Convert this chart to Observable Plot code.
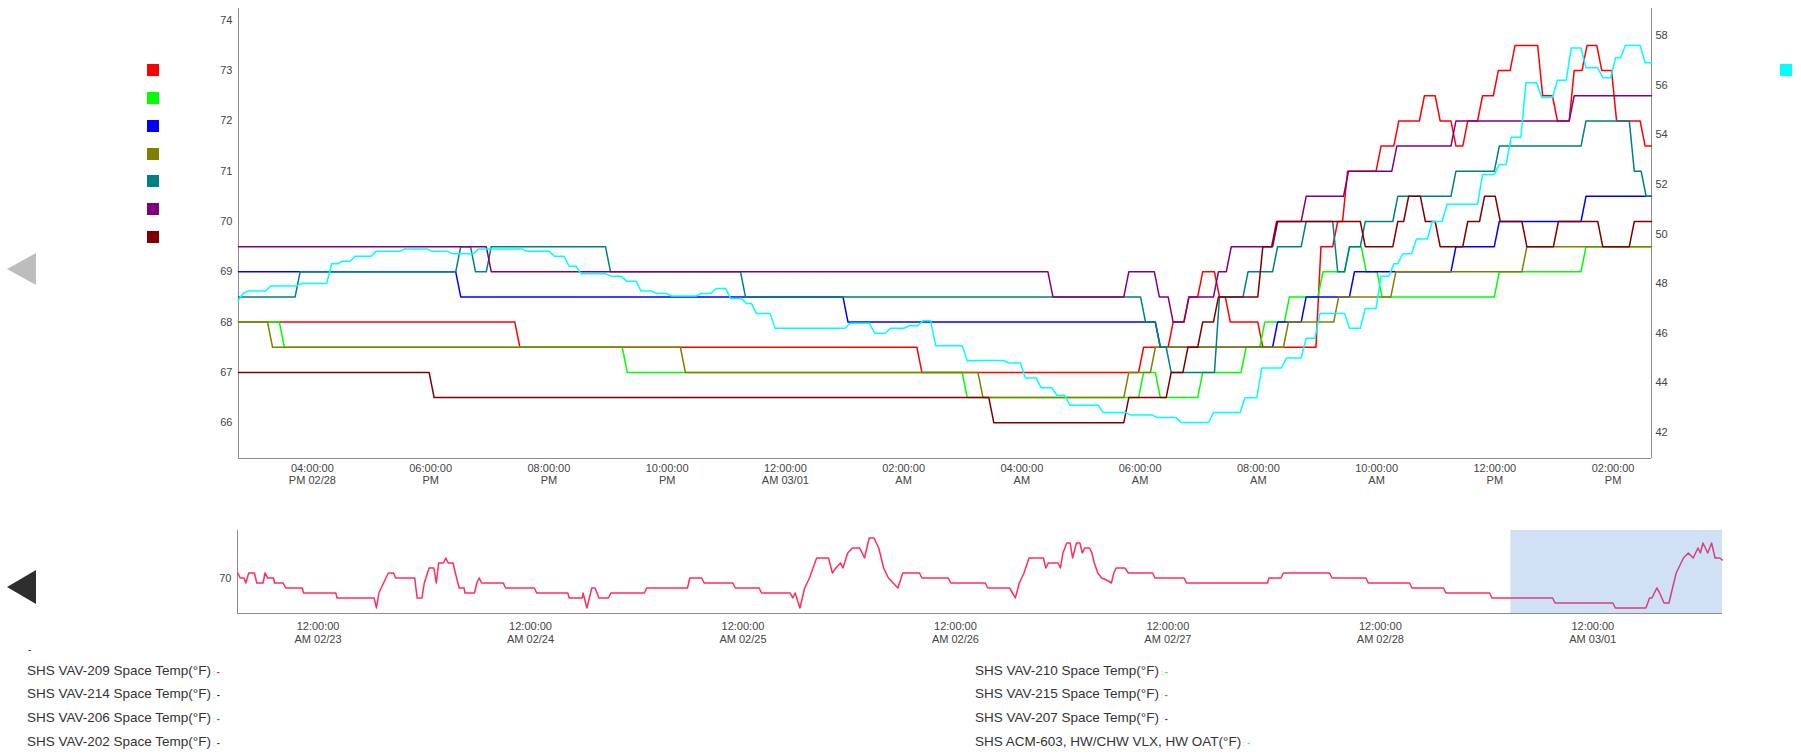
<!DOCTYPE html>
<html><head><meta charset="utf-8">
<script src="https://cdn.jsdelivr.net/npm/d3@7"></script>
<script src="https://cdn.jsdelivr.net/npm/@observablehq/plot@0.6"></script>
<style>
html,body{margin:0;padding:0;background:#fff;width:1801px;height:754px;overflow:hidden;font-family:"Liberation Sans",Arial,sans-serif;}
#wrap{position:relative;width:1801px;height:754px;}
.sw{position:absolute;width:12px;height:12px;}
.tri{position:absolute;width:0;height:0;border-top:16px solid transparent;border-bottom:16px solid transparent;}
.leg{position:absolute;font-size:13.5px;color:#333;white-space:nowrap;line-height:16px;}
.leg .sep{font-size:7px;color:#999;}
.leg .dash{font-size:9px;font-weight:bold;}
</style></head><body><div id="wrap"></div>
<script>
// ---------- DATA ----------
const seriesNames = ["SHS VAV-209 Space Temp(°F)","SHS VAV-210 Space Temp(°F)","SHS VAV-214 Space Temp(°F)","SHS VAV-215 Space Temp(°F)","SHS VAV-206 Space Temp(°F)","SHS VAV-207 Space Temp(°F)","SHS VAV-202 Space Temp(°F)","SHS ACM-603, HW/CHW VLX, HW OAT(°F)"];
const seriesColors = ["#ff0000","#00ff00","#0000ff","#808000","#008080","#800080","#800000","#00ffff"];

const vav209 = [["02-28 14:45",68],["02-28 19:28",67.5],["03-01 02:16",67],["03-01 06:01",67.5],["03-01 06:31",68],["03-01 06:47",68.5],["03-01 07:01",69],["03-01 07:18",68.5],["03-01 07:29",68],["03-01 08:02",67.5],["03-01 09:01",69.5],["03-01 09:18",70],["03-01 09:28",71],["03-01 10:02",71.5],["03-01 10:20",72],["03-01 10:46",72.5],["03-01 11:02",72],["03-01 11:18",71.5],["03-01 11:30",72],["03-01 11:45",72.5],["03-01 12:01",73],["03-01 12:18",73.5],["03-01 12:46",72.5],["03-01 13:01",72],["03-01 13:18",73],["03-01 13:31",73.5],["03-01 13:46",73],["03-01 14:01",72],["03-01 14:30",71.5],["03-01 14:39",71.5]];
const vav210 = [["02-28 14:45",68],["02-28 15:29",67.5],["02-28 21:17",67],["03-01 03:02",66.5],["03-01 06:01",67],["03-01 06:18",66.5],["03-01 07:01",67],["03-01 07:45",67.5],["03-01 08:04",68],["03-01 08:29",68.5],["03-01 09:03",69],["03-01 09:30",69.5],["03-01 09:47",69],["03-01 10:03",68.5],["03-01 12:02",69],["03-01 13:30",69.5],["03-01 14:39",69.5]];
const vav214 = [["02-28 14:45",69],["02-28 18:28",68.5],["03-01 01:01",68],["03-01 06:18",67.5],["03-01 08:17",68],["03-01 08:46",68.5],["03-01 09:35",69],["03-01 11:18",69.5],["03-01 12:02",70],["03-01 13:30",70.5],["03-01 14:39",70.5]];
const vav215 = [["02-28 14:45",68],["02-28 15:17",67.5],["02-28 22:16",67],["03-01 03:18",66.5],["03-01 05:46",67],["03-01 06:13",67.5],["03-01 08:28",68],["03-01 09:19",68.5],["03-01 10:17",69],["03-01 12:30",69.5],["03-01 14:39",69.5]];
const vav206 = [["02-28 14:45",68.5],["02-28 15:45",69],["02-28 18:28",69.5],["02-28 18:43",69],["02-28 18:59",69.5],["02-28 21:00",69],["02-28 23:17",68.5],["03-01 06:03",68],["03-01 06:18",67.5],["03-01 06:29",67],["03-01 07:18",68.5],["03-01 07:47",69],["03-01 08:17",69.5],["03-01 08:46",70],["03-01 09:18",69],["03-01 09:30",69.5],["03-01 09:46",70],["03-01 10:19",70.5],["03-01 11:18",71],["03-01 12:02",71.5],["03-01 13:30",72],["03-01 14:19",71],["03-01 14:31",70.5],["03-01 14:39",70.5]];
const vav207 = [["02-28 14:45",69.5],["02-28 18:59",69],["03-01 04:29",68.5],["03-01 05:46",69],["03-01 06:17",68.5],["03-01 06:31",68],["03-01 06:47",68.5],["03-01 07:17",69],["03-01 07:30",69.5],["03-01 08:16",70],["03-01 08:46",70.5],["03-01 09:29",71],["03-01 10:18",71.5],["03-01 11:18",72],["03-01 13:18",72.5],["03-01 14:39",72.5]];
const vav202 = [["02-28 14:45",67],["02-28 18:01",66.5],["03-01 03:29",66],["03-01 05:46",66.5],["03-01 06:29",67],["03-01 06:46",67.5],["03-01 07:01",68],["03-01 07:17",68.5],["03-01 08:02",69.5],["03-01 08:17",70],["03-01 09:46",69.5],["03-01 10:19",70],["03-01 10:30",70.5],["03-01 10:47",70],["03-01 11:02",69.5],["03-01 11:30",70],["03-01 11:47",70.5],["03-01 12:03",70],["03-01 12:30",69.5],["03-01 13:02",70],["03-01 13:47",69.5],["03-01 14:19",70],["03-01 14:39",70]];
const oat = [["02-28 14:45",47.3],["02-28 14:47",47.6],["02-28 14:52",47.7],["02-28 15:15",47.9],["02-28 15:46",48.0],["02-28 16:17",48.8],["02-28 16:28",48.9],["02-28 16:41",49.1],["02-28 17:02",49.3],["02-28 17:31",49.4],["02-28 17:59",49.3],["02-28 18:20",49.2],["02-28 18:46",49.4],["02-28 19:35",49.3],["02-28 20:03",49.1],["02-28 20:18",48.7],["02-28 20:30",48.4],["02-28 21:00",48.3],["02-28 21:16",48.1],["02-28 21:31",47.7],["02-28 21:47",47.6],["02-28 22:02",47.5],["02-28 22:32",47.6],["02-28 22:47",47.8],["02-28 23:02",47.4],["02-28 23:18",47.2],["02-28 23:28",46.8],["02-28 23:47",46.2],["03-01 01:03",46.4],["03-01 01:28",46.0],["03-01 01:44",46.2],["03-01 02:03",46.3],["03-01 02:17",46.5],["03-01 02:30",45.5],["03-01 03:02",44.9],["03-01 03:44",44.8],["03-01 04:01",44.2],["03-01 04:17",43.8],["03-01 04:33",43.5],["03-01 04:46",43.1],["03-01 05:20",42.8],["03-01 05:48",42.7],["03-01 06:15",42.6],["03-01 06:39",42.4],["03-01 07:12",42.8],["03-01 07:44",43.4],["03-01 08:01",44.6],["03-01 08:26",45.0],["03-01 08:46",45.8],["03-01 09:00",46.8],["03-01 09:30",46.2],["03-01 09:46",47.0],["03-01 10:02",48.3],["03-01 10:15",48.8],["03-01 10:24",49.2],["03-01 10:38",49.8],["03-01 10:54",50.5],["03-01 11:09",51.2],["03-01 11:45",52.4],["03-01 12:02",52.8],["03-01 12:14",53.9],["03-01 12:29",56.1],["03-01 12:45",55.5],["03-01 13:01",56.2],["03-01 13:15",57.5],["03-01 13:30",56.7],["03-01 13:47",56.3],["03-01 14:00",57.1],["03-01 14:10",57.6],["03-01 14:30",56.9],["03-01 14:39",56.9]];

// navigator: [hours since 02/22 00:00, °F] for SHS VAV-209
const navHistory = [[14.93,70.5],[15.20,70],[15.63,70],[15.84,69.5],[16.17,70.5],[16.81,70.5],[17.08,69.5],[17.79,69.5],[18.00,70.5],[18.33,70],[18.97,70],[19.08,69.5],[20.06,69.5],[20.33,69],[22.21,69],[22.36,68.5],[26.0,68.5],[26.15,68],[30.33,68],[30.60,67],[30.87,68.5],[31.40,69.5],[31.94,70.5],[32.53,70.5],[32.76,70],[34.92,70],[35.19,68],[35.73,68],[36.0,69.5],[36.54,71],[37.08,71],[37.36,69.5],[37.62,71.5],[38.16,71.5],[38.43,72],[38.70,71.5],[39.24,71.5],[39.51,70.5],[39.94,69],[40.49,69],[40.60,68.5],[41.67,68.5],[41.94,69.5],[42.21,70],[42.49,69.5],[44.92,69.5],[45.19,69],[48.43,69],[48.70,68.5],[52.21,68.5],[52.37,68],[53.84,68],[53.94,68.5],[54.37,67],[54.92,69],[55.30,69],[55.73,68],[56.81,68],[57.08,68.5],[60.86,68.5],[61.13,69],[65.73,69],[66.0,70],[67.34,70],[67.62,69.5],[70.86,69.5],[71.13,69],[73.83,69],[74.10,68.5],[77.34,68.5],[77.62,68],[77.89,68.5],[78.43,67],[78.97,69],[79.51,70],[80.32,72],[81.67,72],[82.10,70.5],[82.49,71],[83.02,71.5],[83.29,71],[83.83,72.5],[84.37,73],[85.19,73],[85.73,72],[86.26,74],[86.80,74],[87.34,73],[87.89,71],[88.43,70],[88.97,69.5],[89.50,69],[90.05,70.5],[91.94,70.5],[92.21,70],[95.19,70],[95.46,69.5],[97.73,69.5],[99.37,69.5],[99.65,69],[102.11,69],[102.38,68.6],[102.77,68],[103.21,69.5],[103.75,70.5],[104.31,72],[105.94,72],[106.21,71],[106.50,71.5],[107.59,71.5],[107.86,71],[108.14,72.5],[108.58,73.5],[108.96,73.5],[109.23,72],[109.67,73.5],[110.06,73.5],[110.33,72.5],[110.60,73],[111.15,73],[111.42,72.5],[111.69,71.5],[112.08,70.5],[112.52,70],[113.06,69.8],[113.62,69.5],[113.89,70.5],[114.16,71],[115.14,71],[115.53,70.5],[118.27,70.5],[118.54,70],[121.83,70],[122.10,69.5],[131.25,69.5],[131.41,70],[132.78,70],[133.05,70.5],[138.26,70.5],[138.53,70],[142.37,70],[142.64,69.5],[147.30,69.5],[147.57,69],[151.13,69],[151.40,68.5],[156.34,68.5],[156.61,68],[163.46,68],[163.73,67.5],[170.27,67.5],[170.55,67],[174.0,67],[174.41,68],[174.68,68],[175.23,69],[175.50,68.6],[176.05,67.5],[176.60,67.5],[176.87,68.5],[177.42,70.5],[178.24,72],[178.79,72.5],[179.34,72],[179.88,73],[180.15,72.5],[180.44,73.5],[180.98,72.5],[181.42,73.5],[181.81,72],[182.35,72],[182.62,71.8]];

const leftTicks = [66,67,68,69,70,71,72,73,74];
const rightTicks = [42,44,46,48,50,52,54,56,58];
const xTickTimes = ["02-28 16:00","02-28 18:00","02-28 20:00","02-28 22:00","03-01 00:00","03-01 02:00","03-01 04:00","03-01 06:00","03-01 08:00","03-01 10:00","03-01 12:00","03-01 14:00"];
const xTickLabels = ["04:00:00\nPM 02/28","06:00:00\nPM","08:00:00\nPM","10:00:00\nPM","12:00:00\nAM 03/01","02:00:00\nAM","04:00:00\nAM","06:00:00\nAM","08:00:00\nAM","10:00:00\nAM","12:00:00\nPM","02:00:00\nPM"];
const navTickTimes = ["02-23 00:00","02-24 00:00","02-25 00:00","02-26 00:00","02-27 00:00","02-28 00:00","03-01 00:00"];
const navTickLabels = ["12:00:00\nAM 02/23","12:00:00\nAM 02/24","12:00:00\nAM 02/25","12:00:00\nAM 02/26","12:00:00\nAM 02/27","12:00:00\nAM 02/28","12:00:00\nAM 03/01"];
const navTicksY = [70];

const mainWindow = ["02-28 14:45","03-01 14:39"];
const navStartHour = 14.9;
const leftDomain = [65.288, 74.235];
const rightDomain = [40.95, 59.09];
const navDomain = [66.45, 74.75];

// ---------- BUILD ----------
const parse = d3.utcParse("%Y-%m-%d %H:%M");
const T = s => parse("2023-" + s);
const navBase = Date.UTC(2023, 1, 22);
const mainStart = T(mainWindow[0]), mainEnd = T(mainWindow[1]);
const navStart = new Date(navBase + navStartHour * 36e5);
const toRows = arr => arr.map(([t, v]) => ({t: T(t), v}));
const vavSeries = [vav209, vav210, vav214, vav215, vav206, vav207, vav202].map(toRows);
const oatRows = toRows(oat);
const navRows = navHistory.map(([h, v]) => ({t: new Date(navBase + h * 36e5), v}));

const mainLabel = new Map(xTickTimes.map((s, i) => [+T(s), xTickLabels[i]]));
const navLabel = new Map(navTickTimes.map((s, i) => [+T(s), navTickLabels[i]]));

// step curve with short slanted transitions (as the sampled trend renders them)
function slantStep(context) {
  let started = false, py = 0;
  const half = 2.5;
  return {
    areaStart() {}, areaEnd() {},
    lineStart() { started = false; },
    lineEnd() {},
    point(x, y) {
      x = +x; y = +y;
      if (!started) { context.moveTo(x, y); started = true; }
      else if (y !== py) { context.lineTo(x - half, py); context.lineTo(x + half, y); }
      else context.lineTo(x, y);
      py = y;
    }
  };
}

const W = 1801, AXIS = "#8c8c8c";
const baseStyle = {background: "transparent", fontFamily: "'Liberation Sans', Arial, sans-serif", fontSize: "11px", color: "#444", overflow: "visible"};
const wrap = document.getElementById("wrap");
function place(el, top) { el.style.position = "absolute"; el.style.left = "0px"; el.style.top = top + "px"; wrap.appendChild(el); }

const leftPlot = Plot.plot({
  width: W, height: 490, marginLeft: 238, marginRight: 150, marginTop: 8, marginBottom: 32,
  style: baseStyle,
  x: {type: "utc", domain: [mainStart, mainEnd]},
  y: {domain: leftDomain},
  marks: [
    Plot.ruleX([mainStart, mainEnd], {stroke: AXIS}),
    Plot.ruleY([leftDomain[0]], {stroke: AXIS}),
    Plot.axisY({ticks: leftTicks, tickSize: 0, tickPadding: 6, tickFormat: d => String(d), label: null}),
    Plot.axisX({ticks: xTickTimes.map(T), tickSize: 0, tickPadding: 5, tickFormat: d => mainLabel.get(+d), label: null, lineHeight: 1.1}),
    ...vavSeries.map((rows, i) => Plot.line(rows, {x: "t", y: "v", stroke: seriesColors[i], strokeWidth: 1.5, curve: slantStep}))
  ]
});
place(leftPlot, 0);

const rightPlot = Plot.plot({
  width: W, height: 490, marginLeft: 238, marginRight: 150, marginTop: 8, marginBottom: 32,
  style: baseStyle,
  x: {type: "utc", domain: [mainStart, mainEnd]},
  y: {domain: rightDomain},
  marks: [
    Plot.axisX({ticks: [], tickSize: 0, label: null}),
    Plot.axisY({anchor: "right", ticks: rightTicks, tickSize: 0, tickPadding: 4, tickFormat: d => String(d), label: null}),
    Plot.line(oatRows, {x: "t", y: "v", stroke: seriesColors[7], strokeWidth: 1.5, curve: slantStep})
  ]
});
place(rightPlot, 0);

const navPlot = Plot.plot({
  width: W, height: 140, marginLeft: 237, marginRight: 79, marginTop: 10, marginBottom: 47,
  style: baseStyle,
  x: {type: "utc", domain: [navStart, mainEnd]},
  y: {domain: navDomain},
  marks: [
    Plot.ruleX([navStart], {stroke: AXIS}),
    Plot.ruleY([navDomain[0]], {stroke: AXIS}),
    Plot.axisY({ticks: navTicksY, tickSize: 0, tickPadding: 6, tickFormat: d => String(d), label: null}),
    Plot.axisX({ticks: navTickTimes.map(T), tickSize: 0, tickPadding: 7, tickFormat: d => navLabel.get(+d), label: null, lineHeight: 1.2}),
    Plot.line(navRows, {x: "t", y: "v", stroke: "#ff2d5f", strokeWidth: 1.5}),
    Plot.rect([{a: mainStart, b: mainEnd}], {x1: "a", x2: "b", fill: "#4a86d8", fillOpacity: 0.26})
  ]
});
place(navPlot, 520);

// legend swatches
const swTops = [64, 92, 120, 148, 175, 203, 231];
swTops.forEach((top, i) => {
  const d = document.createElement("div");
  d.className = "sw"; d.style.left = "147px"; d.style.top = top + "px"; d.style.background = seriesColors[i];
  wrap.appendChild(d);
});
{
  const d = document.createElement("div");
  d.className = "sw"; d.style.left = "1780px"; d.style.top = "64px"; d.style.background = seriesColors[7];
  wrap.appendChild(d);
}
// navigation arrows
{
  const a = document.createElement("div");
  a.className = "tri"; a.style.left = "7px"; a.style.top = "253px"; a.style.borderRight = "29px solid #bdbdbd";
  wrap.appendChild(a);
  const b = document.createElement("div");
  b.className = "tri"; b.style.left = "7px"; b.style.top = "570px"; b.style.borderRight = "29px solid #2e2e2e";
  b.style.borderTopWidth = "17px"; b.style.borderBottomWidth = "17px";
  wrap.appendChild(b);
  const dot = document.createElement("div");
  dot.className = "leg"; dot.style.left = "28px"; dot.style.top = "642px"; dot.style.fontSize = "10px"; dot.textContent = "-";
  wrap.appendChild(dot);
}
// bottom legend
const legCols = [[0, 2, 4, 6], [1, 3, 5, 7]];
const legLeft = [27, 975];
const legTops = [663, 686, 710, 734];
legCols.forEach((col, c) => col.forEach((si, r) => {
  const d = document.createElement("div");
  d.className = "leg"; d.style.left = legLeft[c] + "px"; d.style.top = legTops[r] + "px";
  d.innerHTML = seriesNames[si] + '<span class="sep"> : </span><span class="dash" style="color:' + seriesColors[si] + '">-</span>';
  wrap.appendChild(d);
}));
</script></body></html>
